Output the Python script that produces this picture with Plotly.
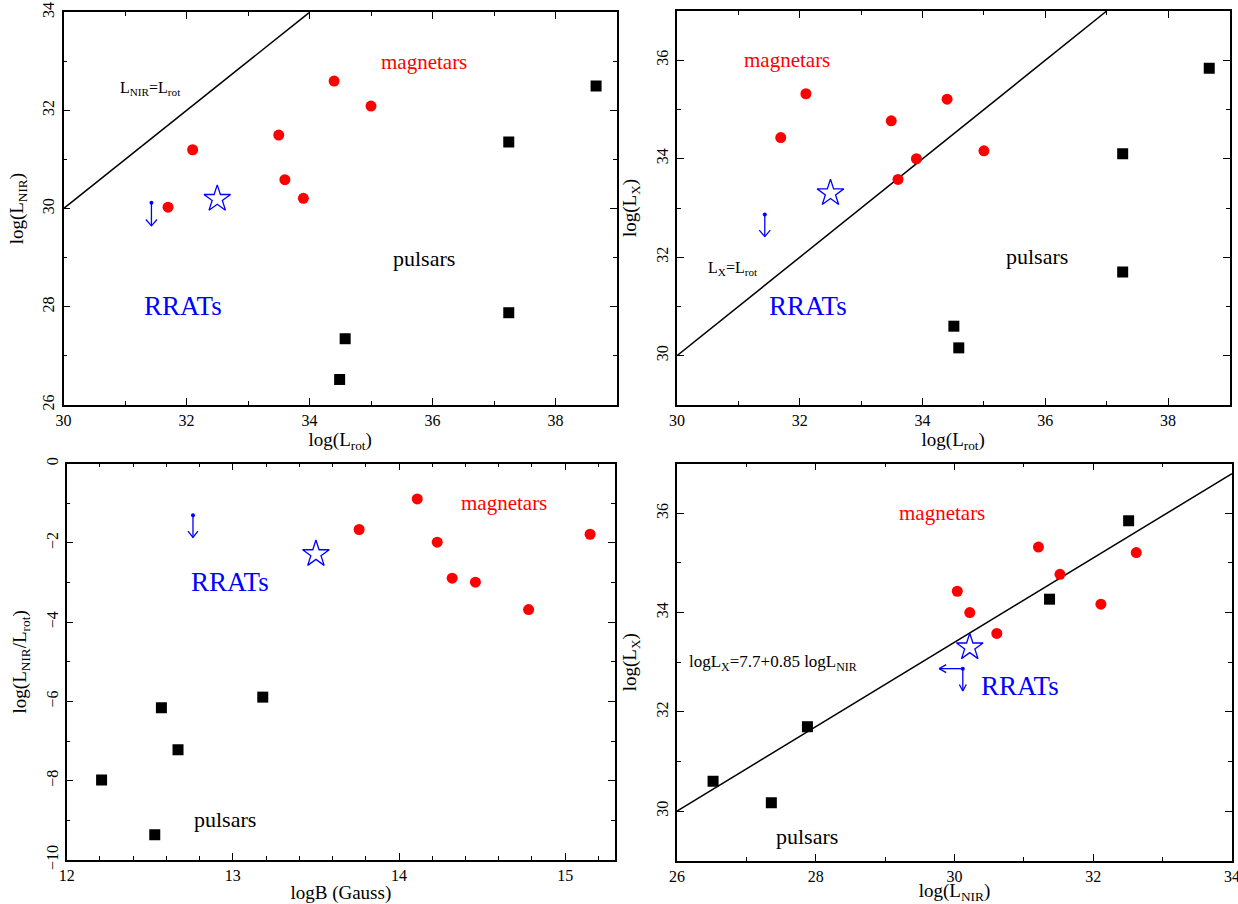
import plotly.graph_objects as go

# ---------------- data ----------------
# Panel 1: log(L_rot) vs log(L_NIR)
p1_mag_x = [31.70, 32.10, 33.50, 33.60, 33.90, 34.40, 35.00]
p1_mag_y = [30.03, 31.20, 31.50, 30.59, 30.21, 32.60, 32.09]
p1_psr_x = [38.66, 37.24, 37.24, 34.58, 34.49]
p1_psr_y = [32.50, 31.36, 27.88, 27.35, 26.52]
p1_rrat_x = [32.50]
p1_rrat_y = [30.20]
p1_lim_x = [31.43]
p1_lim_y = [30.12]
p1_line_x = [30, 34]
p1_line_y = [30, 34]

# Panel 2: log(L_rot) vs log(L_X)
p2_mag_x = [31.69, 32.10, 33.49, 34.40, 33.90, 33.60, 35.00]
p2_mag_y = [34.43, 35.32, 34.77, 35.21, 34.00, 33.58, 34.16]
p2_psr_x = [38.67, 37.26, 37.26, 34.51, 34.59]
p2_psr_y = [35.84, 34.10, 31.70, 30.60, 30.16]
p2_rrat_x = [32.50]
p2_rrat_y = [33.30]
p2_lim_x = [31.43]
p2_lim_y = [32.87]
p2_line_x = [30, 37]
p2_line_y = [30, 37]

# Panel 3: logB vs log(L_NIR/L_rot)
p3_mag_x = [13.76, 14.11, 14.23, 14.32, 14.46, 14.78, 15.15]
p3_mag_y = [-1.66, -0.89, -1.98, -2.89, -2.99, -3.68, -1.78]
p3_psr_x = [12.21, 12.57, 12.67, 13.18, 12.53]
p3_psr_y = [-7.98, -6.16, -7.22, -5.89, -9.36]
p3_rrat_x = [13.50]
p3_rrat_y = [-2.28]
p3_lim_x = [12.76]
p3_lim_y = [-1.30]

# Panel 4: log(L_NIR) vs log(L_X)
p4_mag_x = [30.04, 30.22, 30.61, 31.21, 31.52, 32.11, 32.62]
p4_mag_y = [34.43, 34.00, 33.58, 35.32, 34.77, 34.17, 35.21]
p4_psr_x = [26.52, 27.36, 27.88, 31.37, 32.51]
p4_psr_y = [30.60, 30.17, 31.70, 34.27, 35.85]
p4_rrat_x = [30.22]
p4_rrat_y = [33.30]
p4_lim_x = [30.12]
p4_lim_y = [32.87]
p4_line_x = [26, 34]
p4_line_y = [30.0, 36.8]

W, H = 1238, 904
FONT = "Liberation Serif, Times New Roman, serif"
RED = "#ff0000"
BLUE = "#0000ff"

fig = go.Figure()

panels = [
    dict(ax="", xd=[63.5, 617], yd=[12.3, 405], xr=[30, 39], yr=[26, 34], xdt=2, xmt=1, ydt=2, ymt=1,
         xt="log(L<sub>rot</sub>)", yt="log(L<sub>NIR</sub>)"),
    dict(ax="2", xd=[677, 1229.5], yd=[11, 405], xr=[30, 39], yr=[29, 37], xdt=2, xmt=1, ydt=2, ymt=1,
         xt="log(L<sub>rot</sub>)", yt="log(L<sub>X</sub>)"),
    dict(ax="3", xd=[66.7, 615], yd=[463.7, 860], xr=[12, 15.3], yr=[-10, 0], xdt=1, xmt=0.2, ydt=2, ymt=1,
         xt="logB (Gauss)", yt="log(L<sub>NIR</sub>/L<sub>rot</sub>)"),
    dict(ax="4", xd=[677, 1232], yd=[463.7, 860.7], xr=[26, 34], yr=[29, 37], xdt=2, xmt=1, ydt=2, ymt=1,
         xt="log(L<sub>NIR</sub>)", yt="log(L<sub>X</sub>)"),
]

layout = {}
for p in panels:
    a = p["ax"]
    layout["xaxis" + a] = dict(
        domain=[p["xd"][0] / W, p["xd"][1] / W], range=p["xr"], anchor="y" + a,
        showgrid=False, zeroline=False, showline=True, linecolor="black", linewidth=1.5, mirror="allticks",
        ticks="inside", ticklen=7, tickwidth=1, tickcolor="black", dtick=p["xdt"], tick0=0,
        minor=dict(ticks="inside", ticklen=4, dtick=p["xmt"], tick0=0, tickcolor="black", showgrid=False),
        tickfont=dict(family=FONT, size=16, color="black"), ticklabeloverflow="allow",
        title=dict(text=p["xt"], font=dict(family=FONT, size=19, color="black"), standoff=2),
        automargin=False,
    )
    layout["yaxis" + a] = dict(
        domain=[1 - p["yd"][1] / H, 1 - p["yd"][0] / H], range=p["yr"], anchor="x" + a,
        showgrid=False, zeroline=False, showline=True, linecolor="black", linewidth=1.5, mirror="allticks",
        ticks="inside", ticklen=7, tickwidth=1, tickcolor="black", dtick=p["ydt"], tick0=0,
        minor=dict(ticks="inside", ticklen=4, dtick=p["ymt"], tick0=0, tickcolor="black", showgrid=False),
        tickfont=dict(family=FONT, size=16, color="black"), tickangle=-90, ticklabelstandoff=1,
        ticklabeloverflow="allow",
        title=dict(text=p["yt"], font=dict(family=FONT, size=19, color="black"), standoff=12),
        automargin=False,
    )


def add_points(a, mx, my, px, py, rx, ry):
    xa, ya = "x" + a, "y" + a
    fig.add_trace(go.Scatter(x=mx, y=my, mode="markers", xaxis=xa, yaxis=ya, showlegend=False,
                             marker=dict(symbol="circle", size=11, color=RED)))
    fig.add_trace(go.Scatter(x=px, y=py, mode="markers", xaxis=xa, yaxis=ya, showlegend=False,
                             marker=dict(symbol="square", size=11, color="black")))
    fig.add_trace(go.Scatter(x=rx, y=ry, mode="markers", xaxis=xa, yaxis=ya, showlegend=False,
                             marker=dict(symbol="star-open", size=20, color=BLUE, line=dict(width=1.3))))


def add_line(a, lx, ly):
    fig.add_trace(go.Scatter(x=lx, y=ly, mode="lines", xaxis="x" + a, yaxis="y" + a, showlegend=False,
                             line=dict(color="black", width=1.5), hoverinfo="skip"))


def arrow(a, x, y, dx, dy, hx, hy):
    """Open-V arrow from (x, y) to (x+dx, y+dy); hx, hy = head size in data units."""
    ex, ey = x + dx, y + dy
    if dx == 0:  # vertical (down)
        xs = [x, ex, None, ex - hx, ex, ex + hx]
        ys = [y, ey, None, ey + hy, ey, ey + hy]
    else:  # horizontal (left)
        xs = [x, ex, None, ex + hx, ex, ex + hx]
        ys = [y, ey, None, ey + hy, ey, ey - hy]
    fig.add_trace(go.Scatter(x=xs, y=ys, mode="lines", xaxis="x" + a, yaxis="y" + a, showlegend=False,
                             line=dict(color=BLUE, width=1.3), hoverinfo="skip"))


def lim_dot(a, x, y):
    fig.add_trace(go.Scatter(x=x, y=y, mode="markers", xaxis="x" + a, yaxis="y" + a, showlegend=False,
                             marker=dict(symbol="circle", size=4, color=BLUE)))


# Panel 1
add_line("", p1_line_x, p1_line_y)
add_points("", p1_mag_x, p1_mag_y, p1_psr_x, p1_psr_y, p1_rrat_x, p1_rrat_y)
arrow("", p1_lim_x[0], p1_lim_y[0], 0, -0.47, 0.09, 0.13)
lim_dot("", p1_lim_x, p1_lim_y)

# Panel 2
add_line("2", p2_line_x, p2_line_y)
add_points("2", p2_mag_x, p2_mag_y, p2_psr_x, p2_psr_y, p2_rrat_x, p2_rrat_y)
arrow("2", p2_lim_x[0], p2_lim_y[0], 0, -0.45, 0.09, 0.13)
lim_dot("2", p2_lim_x, p2_lim_y)

# Panel 3
add_points("3", p3_mag_x, p3_mag_y, p3_psr_x, p3_psr_y, p3_rrat_x, p3_rrat_y)
arrow("3", p3_lim_x[0], p3_lim_y[0], 0, -0.56, 0.03, 0.16)
lim_dot("3", p3_lim_x, p3_lim_y)

# Panel 4
add_line("4", p4_line_x, p4_line_y)
add_points("4", p4_mag_x, p4_mag_y, p4_psr_x, p4_psr_y, p4_rrat_x, p4_rrat_y)
arrow("4", p4_lim_x[0], p4_lim_y[0], 0, -0.45, 0.05, 0.13)
arrow("4", p4_lim_x[0], p4_lim_y[0], -0.34, 0, 0.1, 0.08)
lim_dot("4", p4_lim_x, p4_lim_y)


def label(a, x, y, text, color, size, xanchor="center"):
    fig.add_annotation(x=x, y=y, xref="x" + a, yref="y" + a, text=text, showarrow=False,
                       xanchor=xanchor, yanchor="middle",
                       font=dict(family=FONT, size=size, color=color))


label("", 35.86, 32.98, "magnetars", RED, 21)
label("", 31.42, 32.45, "L<sub>NIR</sub>=L<sub>rot</sub>", "black", 16)
label("", 35.86, 28.99, "pulsars", "black", 22)
label("", 31.94, 28.02, "RRATs", BLUE, 27)

label("2", 31.79, 36.0, "magnetars", RED, 21)
label("2", 30.92, 31.77, "L<sub>X</sub>=L<sub>rot</sub>", "black", 16)
label("2", 32.13, 31.02, "RRATs", BLUE, 27)
label("2", 35.87, 32.01, "pulsars", "black", 22)

label("3", 14.63, -0.98, "magnetars", RED, 21)
label("3", 12.98, -2.98, "RRATs", BLUE, 27)
label("3", 12.95, -8.99, "pulsars", "black", 22)

label("4", 26.14, 32.98, "logL<sub>X</sub>=7.7+0.85 logL<sub>NIR</sub>", "black", 17, xanchor="left")
label("4", 29.82, 36.0, "magnetars", RED, 21)
label("4", 30.95, 32.52, "RRATs", BLUE, 27)
label("4", 27.87, 29.48, "pulsars", "black", 22)

fig.update_layout(
    width=W, height=H, margin=dict(l=0, r=0, t=0, b=0),
    paper_bgcolor="white", plot_bgcolor="white", showlegend=False,
    font=dict(family=FONT, color="black"),
    **layout,
)

fig.write_html("out.html", config={"displayModeBar": False},
               post_script="document.body.style.margin='0';document.body.style.padding='0';")
